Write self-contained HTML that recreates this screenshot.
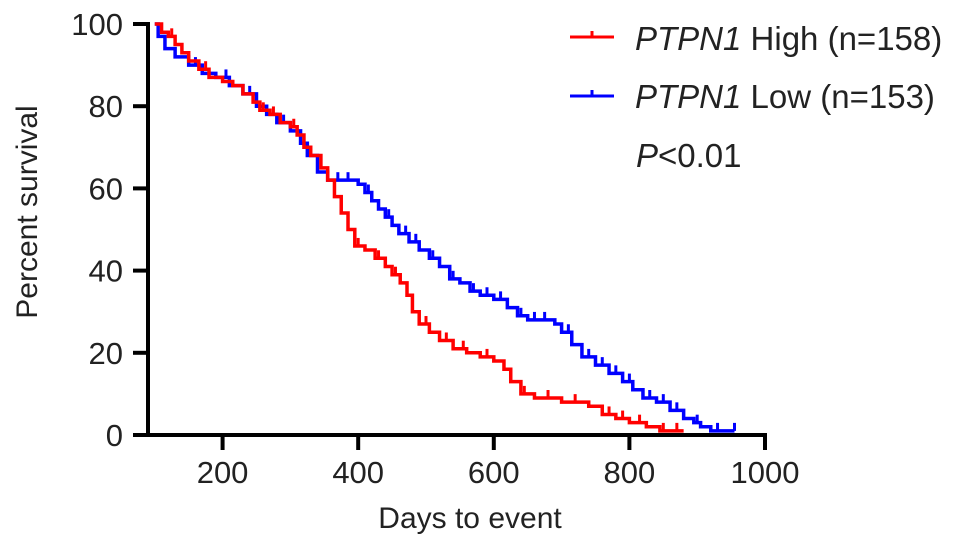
<!DOCTYPE html>
<html><head><meta charset="utf-8"><style>
html,body{margin:0;padding:0;background:#fff;}
svg{display:block;font-family:"Liberation Sans",Arial,sans-serif;}
</style></head><body>
<svg id="chart" width="969" height="549" viewBox="0 0 969 549">
<g id="axes"></g>
<g id="series"></g>
<g>
 <g>
  <line x1="570" y1="37" x2="614" y2="37" stroke="#ff0000" stroke-width="3"/>
  <line x1="592" y1="31" x2="592" y2="37" stroke="#ff0000" stroke-width="3"/>
  <text x="635" y="50" font-size="33" fill="#222"><tspan font-style="italic">PTPN1</tspan> High (n=158)</text>
 </g>
 <g>
  <line x1="570" y1="96" x2="614" y2="96" stroke="#0000ff" stroke-width="3"/>
  <line x1="592" y1="90" x2="592" y2="96" stroke="#0000ff" stroke-width="3"/>
  <text x="635" y="108" font-size="33" fill="#222"><tspan font-style="italic">PTPN1</tspan> Low (n=153)</text>
 </g>
 <text x="636" y="167" font-size="33" fill="#222"><tspan font-style="italic">P</tspan>&lt;0.01</text>
</g>
<text x="470" y="528" font-size="30" text-anchor="middle" fill="#222">Days to event</text>
<text transform="translate(37,212) rotate(-90)" font-size="30" text-anchor="middle" fill="#222">Percent survival</text>
</svg>
<script>
const xTicks=[200,400,600,800,1000];
const yTicks=[0,20,40,60,80,100];
const highTimes=[100,110,120,130,140,150,165,180,200,215,230,245,255,270,285,300,310,320,330,345,355,365,375,385,395,410,425,440,450,462,472,480,490,505,520,540,560,580,600,615,625,640,660,700,740,760,780,800,825,845,880];
const highSurv=[100,98,97,95,93,91,89,87,86,85,83,81,79,78,76,75,73,70,68,65,62,58,54,50,46,45,43,41,39,37,34,30,27,25,23,21,20,19,18,16,13,10,9,8,7,5,4,3,2,1,1];
const highCensor=[125,175,260,275,305,400,430,455,500,530,555,590,645,680,720,770,790,815,850,870];
const lowTimes=[100,105,115,130,150,170,190,210,230,250,265,280,300,315,325,340,355,390,400,410,420,430,440,450,460,475,490,505,520,535,550,565,580,600,620,635,650,690,700,715,730,750,770,790,805,820,840,860,880,895,905,920,955];
const lowSurv=[100,97,94,92,90,88,87,85,83,80,78,76,74,71,68,64,62,62,61,59,57,55,53,51,49,47,45,43,41,38,37,35,34,33,31,29,28,27,25,22,19,17,15,13,11,9,8,6,4,3,2,1,1];
const lowCensor=[160,205,240,290,370,385,415,445,470,485,510,540,570,590,610,640,660,675,710,740,760,780,800,830,850,870,900,930,955];

const X0=148,X1=765,Y0=435,Y1=24,DMIN=90,DMAX=1000;
const sx=d=>X0+(d-DMIN)/(DMAX-DMIN)*(X1-X0);
const sy=v=>Y0-v/100*(Y0-Y1);
const NS="http://www.w3.org/2000/svg";
function mk(tag,attrs,parent){const e=document.createElementNS(NS,tag);for(const k in attrs)e.setAttribute(k,attrs[k]);parent.appendChild(e);return e;}
const axes=document.getElementById('axes');
let xl=mk('line',{x1:X0-2,y1:Y0,x2:X1+2,y2:Y0,stroke:'#000','stroke-width':4},axes);


let yl=mk('line',{x1:X0,y1:Y0+2,x2:X0,y2:Y1-2,stroke:'#000','stroke-width':4},axes);


xTicks.forEach(t=>{
 const x=sx(t);
 const tk=mk('line',{x1:x,y1:Y0,x2:x,y2:Y0+15,stroke:'#000','stroke-width':4},axes);
 
 
 const tx=mk('text',{x:x,y:483,'font-size':31,'text-anchor':'middle',fill:'#222'},axes);
 tx.textContent=t;
 
 
});
yTicks.forEach(t=>{
 const y=sy(t);
 const tk=mk('line',{x1:X0-15,y1:y,x2:X0,y2:y,stroke:'#000','stroke-width':4},axes);
 
 
 const tx=mk('text',{x:123,y:y+11,'font-size':31,'text-anchor':'end',fill:'#222'},axes);
 tx.textContent=t;
 
 
});
const series=document.getElementById('series');
function survAt(times,surv,d){let s=surv[0];for(let i=0;i<times.length;i++){if(times[i]<=d)s=surv[i];}return s;}
function draw(times,surv,cens,color,name){
 let d='M'+sx(times[0])+','+sy(surv[0]);
 for(let i=1;i<times.length;i++){d+=' H'+sx(times[i])+' V'+sy(surv[i]);}
 const p=mk('path',{d:d,fill:'none',stroke:color,'stroke-width':3.5},series);
 
 
 cens.forEach(c=>{
  const y=sy(survAt(times,surv,c));
  const l=mk('line',{x1:sx(c),y1:y-8,x2:sx(c),y2:y,stroke:color,'stroke-width':3},series);
  
  
 });
}
draw(lowTimes,lowSurv,lowCensor,'#0000ff','low');
draw(highTimes,highSurv,highCensor,'#ff0000','high');
</script>
</body></html>
